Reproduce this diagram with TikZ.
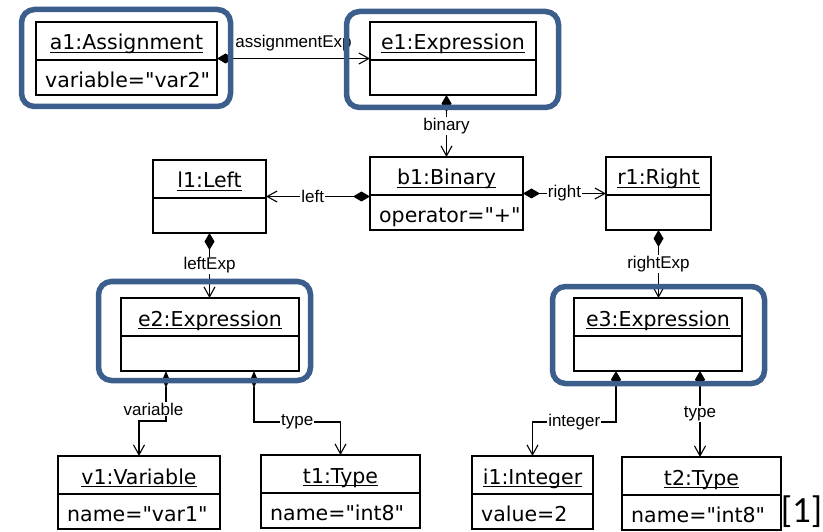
\documentclass[tikz,border=0pt]{standalone}
\usepackage{fontspec}
\newfontfamily\boxfont{DejaVu Sans}
\newfontfamily\labfont{Liberation Sans}
\newfontfamily\notefont{Carlito}
\usetikzlibrary{arrows.meta,calc}
\definecolor{frameblue}{RGB}{59,94,140}

% straight double quote
\newcommand\dq{\char"22\relax}
% underline at a fixed depth, crossing descenders
\newcommand\ulx[1]{\setbox0\hbox{#1}\rlap{\rule[-3pt]{\wd0}{1.3pt}}\box0}

% object box: name, left x, top y, width, title, attribute
\newcommand\umlobj[6]{%
  \node[objbox, minimum width=#4pt] (#1) at (#2,#3) {};
  \draw[line width=1.3pt] ([yshift=-38pt]#1.north west) -- ([yshift=-38pt]#1.north east);
  \node[titletext] (#1-t) at ([yshift=-28pt]#1.north) {\ulx{#5}};
  \node[attrtext] (#1-a) at ([shift={(9pt,-65.5pt)}]#1.north west) {#6};
}

\begin{document}
\begin{tikzpicture}[x=1pt,y=-1pt,
  objbox/.style={draw, line width=1.3pt, minimum height=73pt, inner sep=0pt,
    outer sep=0pt, anchor=north west},
  titletext/.style={font=\boxfont\fontsize{20.5}{24}\selectfont, inner sep=0pt, anchor=base},
  attrtext/.style={font=\boxfont\fontsize{20.5}{24}\selectfont, inner sep=0pt, anchor=base west},
  comp/.style={line width=1.1pt,
    {Diamond[length=17pt,width=10pt]}-{Straight Barb[length=10pt,width=11pt]}},
  thincomp/.style={line width=1.1pt,
    {Diamond[length=17pt,width=7pt]}-{Straight Barb[length=10pt,width=11pt]}},
  lab/.style={font=\labfont\fontsize{17}{20}\selectfont, fill=white, inner sep=1pt},
  frame/.style={draw=frameblue, line width=5.5pt, rounded corners=13pt}]

\useasboundingbox (0,0) rectangle (823,532);

% objects
\umlobj{a1}{36}{22}{181}{a1:Assignment}{variable=\dq var2\dq}
\umlobj{e1}{370}{22}{166}{e1:Expression}{}
\umlobj{b1}{370}{157}{153}{b1:Binary}{operator=\dq+\dq}
\umlobj{l1}{153}{160}{113}{l1:Left}{}
\umlobj{r1}{606}{157}{105}{r1:Right}{}
\umlobj{e2}{121}{298}{178}{e2:Expression}{}
\umlobj{e3}{574}{298}{168}{e3:Expression}{}
\umlobj{v1}{58}{456}{162}{v1:Variable}{name=\dq var1\dq}
\umlobj{t1}{261}{455}{159}{t1:Type}{name=\dq int8\dq}
\umlobj{i1}{472}{456}{121}{i1:Integer}{value=2}
\umlobj{t2}{622}{457}{159}{t2:Type}{name=\dq int8\dq}

% attachment points on the lower edges of the expressions
\coordinate (e2l) at ([xshift=-44pt]e2.south);
\coordinate (e2r) at ([xshift=44pt]e2.south);
\coordinate (e3l) at ([xshift=-42pt]e3.south);
\coordinate (e3r) at ([xshift=42pt]e3.south);

% links
\draw[comp] (a1.east) -- node[lab, anchor=base, yshift=10.5pt] (lae) {assignmentExp} (e1.west);
\draw[comp] (b1.north |- e1.south) -- node[lab] (lbin) {binary} (b1.north);
\draw[comp] (l1.east -| b1.west) -- node[lab, pos=0.55] (lleft) {left} (l1.east);
\draw[comp] (b1.east) -- node[lab] (lright) {right} (r1.west);
\draw[comp] (l1.south) -- node[lab] (llexp) {leftExp} (l1.south |- e2.north);
\draw[comp] (r1.south) -- node[lab] (lrexp) {rightExp} (r1.south |- e3.north);
\draw[thincomp] (e2l) -- node[lab, pos=0.76, xshift=-12.5pt] (lvar) {variable} ++(0,50) -| (v1.north);
\draw[thincomp] (e2r) -- ++(0,51) -| node[lab, pos=0.25] (ltype1) {type} (t1.north);
\draw[comp] (e3l) -- ++(0,51) -| node[lab, pos=0.25] (lint) {integer} (i1.north);
\draw[comp] (e3r) -- node[lab] (ltype2) {type} (e3r |- t2.north);

% highlight frames
\draw[frame] ([shift={(-14.5pt,12.5pt)}]a1.north west) rectangle ([shift={(13.5pt,-11.5pt)}]a1.south east);
\draw[frame] ([shift={(-23.5pt,10.5pt)}]e1.north west) rectangle ([shift={(22.5pt,-12.5pt)}]e1.south east);
\draw[frame] ([shift={(-22.5pt,16.5pt)}]e2.north west) rectangle ([shift={(11.5pt,-9.5pt)}]e2.south east);
\draw[frame] ([shift={(-21.5pt,11.5pt)}]e3.north west) rectangle ([shift={(22.5pt,-12.5pt)}]e3.south east);

% citation mark
\node[font=\notefont\fontsize{37}{42}\selectfont, inner sep=0pt, anchor=base] (cite) at (801.5,522.5) {[1]};
\end{tikzpicture}
\end{document}
